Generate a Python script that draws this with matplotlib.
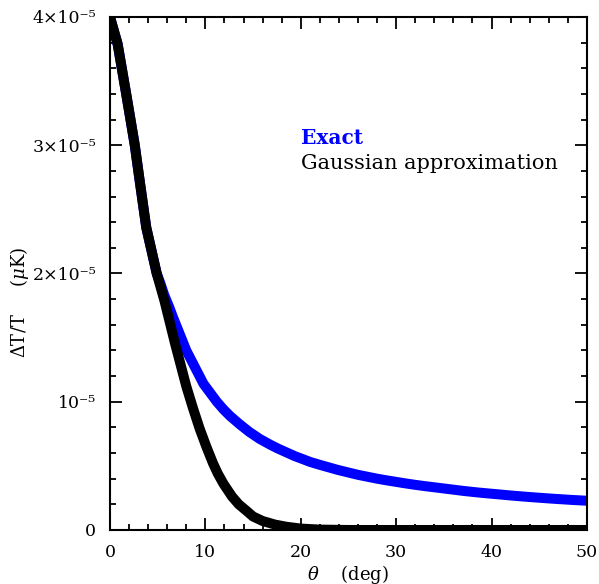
import matplotlib
matplotlib.use("Agg")
import matplotlib.pyplot as plt

# angle in degrees, temperature fluctuation in units of 1e-6
theta_exact = [0, 0.8, 1.7, 2.6, 3.1, 3.8, 4.9, 5.3, 5.7, 6.2, 6.6, 7.3, 8.0, 8.9, 9.8,
               10.5, 11.2, 11.9, 12.6, 13.6, 14.6, 15.7, 16.8, 17.6, 18.5, 19.4, 20.3,
               21.0, 22.0, 23.8, 25.0, 26.0, 27.0, 28.0, 29.0, 30.0, 31.0, 32.0, 33.0,
               34.2, 35.5, 37.0, 38.5, 39.8, 41.0, 42.0, 43.3, 44.7, 46.0, 47.0, 48.5, 50.0]
dt_exact = [40.0, 37.9, 34.0, 30.0, 27.3, 23.6, 20.0, 19.2, 18.3, 17.4, 16.6, 15.3, 14.0, 12.7, 11.4,
            10.7, 10.0, 9.4, 8.88, 8.24, 7.65, 7.1, 6.65, 6.35, 6.05, 5.75, 5.5,
            5.3, 5.08, 4.7, 4.48, 4.3, 4.15, 4.0, 3.87, 3.75, 3.63, 3.52, 3.42,
            3.31, 3.19, 3.05, 2.93, 2.84, 2.76, 2.69, 2.61, 2.53, 2.46, 2.41, 2.34, 2.28]

theta_gauss = [0, 0.8, 1.7, 2.6, 3.1, 3.8, 4.9, 5.7, 6.2, 6.8, 7.4, 8.0, 8.7, 9.4, 10.1,
               10.8, 11.3, 11.9, 12.8, 13.5, 14.3, 15.0, 16.0, 17.3, 18.5, 20.0, 22.0,
               25.0, 30.0, 40.0, 50.0]
dt_gauss = [40.0, 37.9, 34.0, 30.0, 27.3, 23.6, 20.0, 17.9, 16.4, 14.6, 12.9, 11.2, 9.5, 7.9, 6.5,
            5.2, 4.4, 3.6, 2.6, 2.0, 1.5, 1.05, 0.7, 0.42, 0.25, 0.11, 0.03,
            0.0, 0.0, 0.0, 0.0]

x_ticks = [0, 10, 20, 30, 40, 50]
y_ticks = [0, 10, 20, 30, 40]
y_tick_labels = ["0", "10⁻⁵", "2×10⁻⁵", "3×10⁻⁵", "4×10⁻⁵"]

plt.rcParams["font.family"] = "DejaVu Serif"
plt.rcParams["mathtext.fontset"] = "dejavuserif"

fig = plt.figure(figsize=(5.99, 5.84), dpi=100)
ax = fig.add_axes([0.1836, 0.0925, 0.7963, 0.8784])

ax.plot(theta_exact, dt_exact, color="#0000ff", linewidth=7.2, solid_joinstyle="round")
ax.plot(theta_gauss, dt_gauss, color="black", linewidth=7.2, solid_joinstyle="round")

ax.set_xlim(0, 50)
ax.set_ylim(0, 40)
ax.set_xticks(x_ticks)
ax.set_xticks(range(0, 51, 2), minor=True)
ax.set_yticks(y_ticks)
ax.set_yticklabels(y_tick_labels)
ax.set_yticks(range(0, 41, 2), minor=True)

ax.tick_params(which="both", direction="in", top=True, right=True, width=1.3, labelsize=12.5)
ax.tick_params(which="major", length=8.5)
ax.tick_params(which="minor", length=4.3)
ax.tick_params(axis="y", pad=10)
ax.tick_params(axis="x", pad=10)
for spine in ax.spines.values():
    spine.set_linewidth(1.5)

ax.text(0.401, 0.753, "Exact", transform=ax.transAxes, color="#0000ff",
        fontsize=14.5, fontweight="bold", va="baseline")
ax.text(0.401, 0.703, "Gaussian approximation", transform=ax.transAxes, color="black",
        fontsize=15, va="baseline")

fig.text(348 / 599, 1 - 574 / 584, r"$\theta$    (deg)", ha="center", va="center", fontsize=13)
fig.text(20 / 599, 1 - 302 / 584, r"$\Delta$T/T     ($\mu$K)", ha="center", va="center",
         rotation=90, fontsize=13)

fig.savefig("out.png", dpi=100)
